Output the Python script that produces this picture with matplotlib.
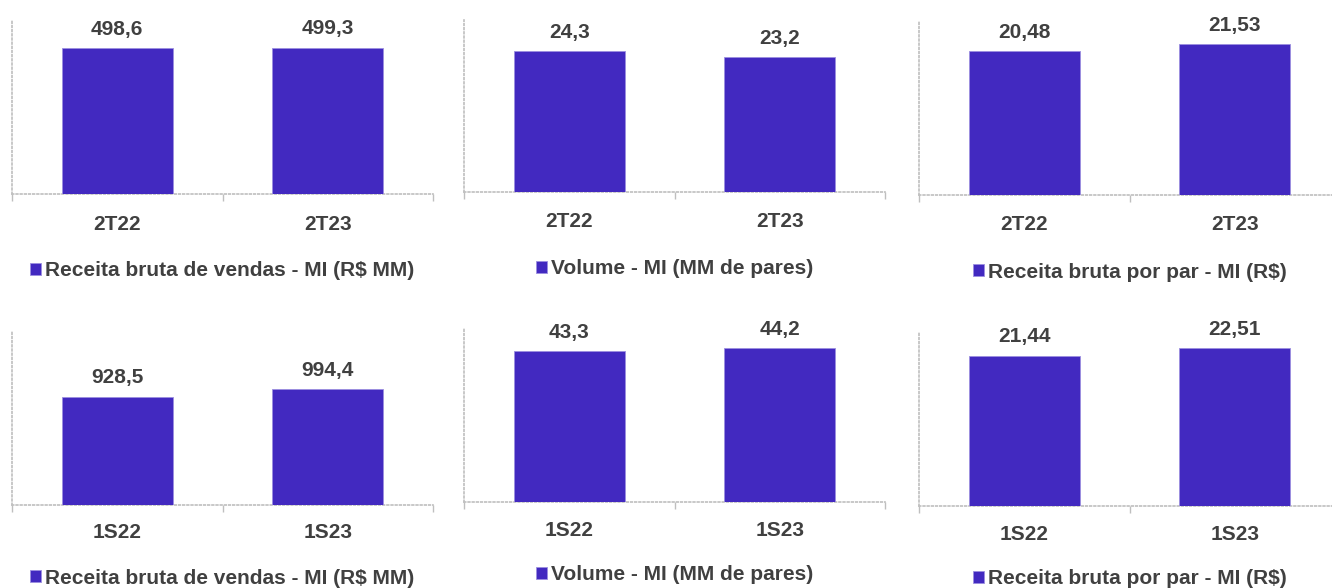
import matplotlib.pyplot as plt
import numpy as np

plt.rcParams['font.family'] = ['Liberation Sans', 'DejaVu Sans']

# Data
quarters = ['2T22', '2T23']
semesters = ['1S22', '1S23']

receita_tri = [498.6, 499.3]
volume_tri = [24.3, 23.2]
preco_tri = [20.48, 21.53]

receita_sem = [928.5, 994.4]
volume_sem = [43.3, 44.2]
preco_sem = [21.44, 22.51]

series_names = ['Receita bruta de vendas - MI (R$ MM)',
                'Volume - MI (MM de pares)',
                'Receita bruta por par - MI (R$)']

bar_color = '#4229C0'
text_color = '#404040'
axis_color = '#BFBFBF'
fs = 15

W, H = 1332, 588
fig = plt.figure(figsize=(W / 100, H / 100), dpi=100)

# (left, right, top, baseline) in pixels, ymax, decimals, label offset, legend offset
panels = [
    (quarters, receita_tri, series_names[0], (12, 433, 21, 194), 590, 1, 30, 77),
    (quarters, volume_tri, series_names[1], (464, 885, 20, 192), 29.6, 1, 30, 77),
    (quarters, preco_tri, series_names[2], (919, 1340, 21, 195), 24.8, 2, 30, 77),
    (semesters, receita_sem, series_names[0], (12, 433, 331, 505), 1490, 1, 28, 73),
    (semesters, volume_sem, series_names[1], (464, 885, 329, 502), 49.6, 1, 28, 73),
    (semesters, preco_sem, series_names[2], (919, 1340, 332, 506), 24.8, 2, 28, 73),
]

for cats, vals, name, (l, r, t, b), ymax, dec, lab_off, leg_off in panels:
    ax = fig.add_axes([l / W, 1 - b / H, (r - l) / W, (b - t) / H])
    x = np.arange(len(cats))
    ax.bar(x, vals, width=0.525, color=bar_color,
           edgecolor='#9C8FE0', linewidth=0.6, label=name, zorder=3)
    ax.set_xlim(-0.5, 1.5)
    ax.set_ylim(0, ymax)

    for s in ['top', 'right']:
        ax.spines[s].set_visible(False)
    for s in ['left', 'bottom']:
        ax.spines[s].set_color(axis_color)
        ax.spines[s].set_linewidth(1.2)
        ax.spines[s].set_linestyle((0, (1, 1.5)))

    ax.set_yticks([])
    ax.set_xticks([-0.5, 0.5, 1.5])
    ax.set_xticklabels([])
    ax.tick_params(axis='x', length=5, width=1, color=axis_color)

    h = b - t
    for xi, c in zip(x, cats):
        ax.text(xi, -lab_off / h, c,
                transform=ax.get_xaxis_transform(), ha='center', va='center',
                fontsize=fs, fontweight='bold', color=text_color)

    for xi, v in zip(x, vals):
        ax.annotate(f"{v:.{dec}f}".replace('.', ','), xy=(xi, v),
                    xytext=(0, 13.5), textcoords='offset points',
                    ha='center', va='center', fontsize=fs,
                    fontweight='bold', color=text_color)

    leg = ax.legend(loc='center', bbox_to_anchor=(0.5, -leg_off / h),
                    frameon=False, handlelength=0.53, handleheight=0.53,
                    handletextpad=0.2, borderpad=0, borderaxespad=0,
                    prop={'size': fs, 'weight': 'bold'})
    for txt in leg.get_texts():
        txt.set_color(text_color)

fig.savefig('out.png', dpi=100)
